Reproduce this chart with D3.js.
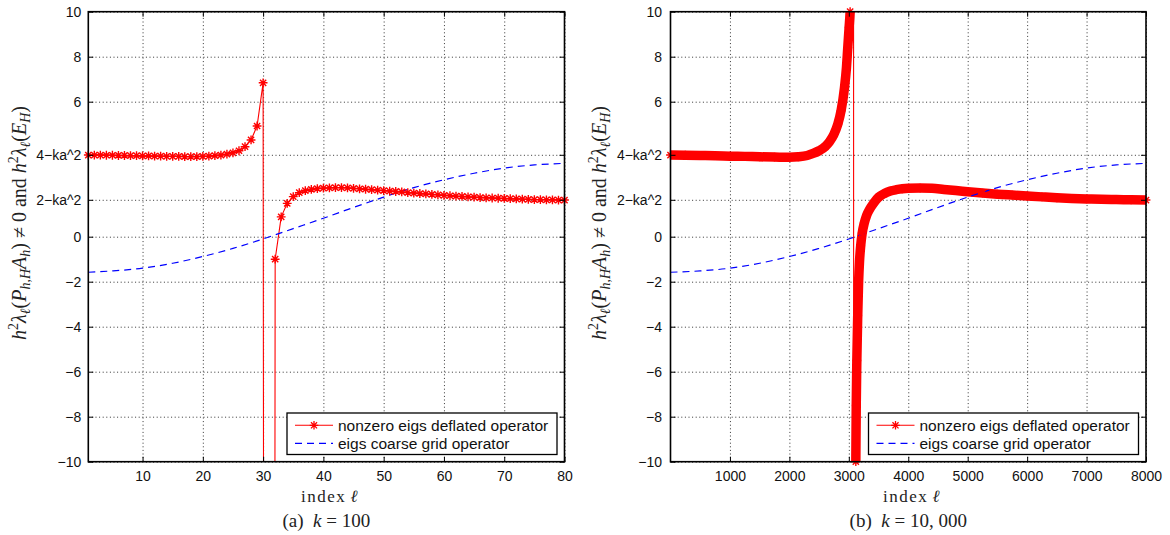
<!DOCTYPE html>
<html><head><meta charset="utf-8">
<script src="https://cdn.jsdelivr.net/npm/d3@7"></script>
<style>
body{margin:0;background:#fff;}
svg text{font-family:"Liberation Sans",Arial,sans-serif;}
.serif{font-family:"Liberation Serif","Times New Roman",serif !important;}
</style></head><body>
<svg id="chart" width="1170" height="535"></svg>
<script>
// ---------- data ----------
const ka2 = 0.36;
const yTickValues = [10, 8, 6, 4 - ka2, 2 - ka2, 0, -2, -4, -6, -8, -10];
const yTickLabels = ["10", "8", "6", "4\u2212ka^2", "2\u2212ka^2", "0", "\u22122", "\u22124", "\u22126", "\u22128", "\u221210"];
const xTicksA = [10, 20, 30, 40, 50, 60, 70, 80];
const xTicksB = [1000, 2000, 3000, 4000, 5000, 6000, 7000, 8000];

// panel (a): k = 100, deflated operator eigenvalues (index 1..80)
const redIdxA = d3.range(1, 81);
const redValA = [
  3.63, 3.63, 3.63, 3.62, 3.62, 3.61, 3.61, 3.60, 3.60, 3.59,
  3.59, 3.58, 3.58, 3.57, 3.57, 3.57, 3.56, 3.56, 3.56, 3.57,
  3.58, 3.60, 3.63, 3.67, 3.73, 3.82, 4.00, 4.30, 4.92, 6.84,
  -250, -1.00, 0.88, 1.48, 1.78, 1.96, 2.05, 2.10, 2.14, 2.16,
  2.17, 2.18, 2.18, 2.17, 2.15, 2.13, 2.11, 2.09, 2.07, 2.05,
  2.03, 2.01, 1.99, 1.96, 1.94, 1.92, 1.90, 1.88, 1.86, 1.84,
  1.82, 1.80, 1.79, 1.77, 1.76, 1.74, 1.73, 1.72, 1.71, 1.70,
  1.69, 1.68, 1.67, 1.66, 1.65, 1.65, 1.64, 1.64, 1.63, 1.63
];
// coarse grid operator eigenvalues (a)
const blueIdxA = [1, 5, 10, 15, 20, 25, 30, 35, 40, 45, 50, 55, 60, 65, 70, 75, 80];
const blueValA = [-1.58, -1.52, -1.40, -1.18, -0.88, -0.52, -0.10, 0.36, 0.82, 1.30, 1.76, 2.18, 2.53, 2.82, 3.05, 3.19, 3.26];

// panel (b): k = 10,000
const redIdxB = [0, 250, 500, 750, 1000, 1250, 1500, 1750, 2000, 2150, 2300, 2400, 2500, 2600, 2675, 2750, 2815, 2870, 2926, 2960, 2982, 3005, 3022, 3040, 3060, 3078,
  3085, 3100, 3110, 3118, 3125, 3135, 3150, 3165, 3180, 3200, 3225, 3260, 3300, 3350, 3420, 3500, 3600, 3700, 3800, 3900, 4000, 4200, 4400, 4600, 4800, 5000,
  5250, 5500, 5750, 6000, 6250, 6500, 6750, 7000, 7250, 7500, 7750, 8000];
const redValB = [3.63, 3.62, 3.61, 3.60, 3.58, 3.57, 3.55, 3.54, 3.53, 3.55, 3.61, 3.70, 3.82, 4.00, 4.22, 4.55, 5.00, 5.60, 6.60, 7.50, 8.40, 9.30, 10.0, 11.5, 14.0, 40.0,
  -60, -20, -13, -10, -7.5, -5.5, -3.5, -2.0, -1.1, -0.4, 0.16, 0.60, 0.95, 1.22, 1.50, 1.75, 1.92, 2.03, 2.09, 2.13, 2.15, 2.16, 2.15, 2.10, 2.05, 2.00,
  1.94, 1.89, 1.85, 1.81, 1.77, 1.73, 1.70, 1.68, 1.66, 1.65, 1.64, 1.63];
const blueIdxB = [0, 500, 1000, 1500, 2000, 2500, 3000, 3500, 4000, 4500, 5000, 5500, 6000, 6500, 7000, 7500, 8000];
const blueValB = [-1.58, -1.52, -1.40, -1.18, -0.88, -0.52, -0.10, 0.36, 0.82, 1.30, 1.76, 2.18, 2.53, 2.82, 3.05, 3.19, 3.26];

const legendLabels = ["nonzero eigs deflated operator", "eigs coarse grid operator"];

// ---------- drawing ----------
const svg = d3.select("#chart");
const Y0 = 11.7, Y1 = 461.7;
const RED = "#ff0000", BLUE = "#0000ff";

function asterisk(r) {
  const d = r * 0.7071;
  return `M${-r},0L${r},0M0,${-r}L0,${r}M${-d},${-d}L${d},${d}M${-d},${d}L${d},${-d}`;
}

function yLabel(g, cx, cy) {
  const F = 20, S = 14;
  const t = g.append("text").attr("class", "serif")
    .attr("transform", `translate(${cx},${cy}) rotate(-90)`)
    .attr("text-anchor", "middle").attr("font-size", F).attr("fill", "#222");
  const parts = [
    ["h", "i", 0], ["2", "n", -8, S], ["λ", "i", 8], ["ℓ", "i", 4, S], ["(", "n", -4], ["P", "i", 0], ["h,H", "i", 4, S], ["A", "i", -4], ["h", "i", 4, S], [")", "n", -4],
    [" \u2260 0 and ", "n", 0], ["h", "i", 0], ["2", "n", -8, S], ["λ", "i", 8], ["ℓ", "i", 4, S], ["(", "n", -4], ["E", "i", 0], ["H", "i", 4, S], [")", "n", -4]
  ];
  parts.forEach(p => {
    t.append("tspan").text(p[0]).attr("font-style", p[1] === "i" ? "italic" : "normal")
      .attr("dy", p[2]).attr("font-size", p[3] || F).style("white-space", "pre");
  });
}

function drawPanel(p) {
  const x = d3.scaleLinear().domain(p.xDomain).range([p.left, p.right]);
  const y = d3.scaleLinear().domain([-10, 10]).range([Y1, Y0]);
  const W = p.right - p.left, H = Y1 - Y0;
  const g = svg.append("g");
  svg.append("clipPath").attr("id", "clip" + p.id).append("rect")
    .attr("x", p.left).attr("y", Y0).attr("width", W).attr("height", H);

  // grid
  const gridStyle = s => {
    s.select(".domain").remove();
    s.selectAll("line").attr("stroke", "#333").attr("stroke-width", 1).attr("stroke-dasharray", "1 2.6");
  };
  g.append("g").attr("transform", `translate(0,${Y1})`)
    .call(d3.axisBottom(x).tickValues(p.xTicks).tickSize(-H).tickFormat("")).call(gridStyle);
  g.append("g").attr("transform", `translate(${p.left},0)`)
    .call(d3.axisLeft(y).tickValues(yTickValues).tickSize(-W).tickFormat("")).call(gridStyle);

  const plot = g.append("g").attr("clip-path", `url(#clip${p.id})`);
  const red = d3.zip(p.redIdx, p.redVal);
  const lin = d3.line().x(d => x(d[0])).y(d => y(d[1]));

  if (p.band) {
    // dense overlapping markers form a thick band; one band per branch
    const split = p.bandSplit;
    [red.filter(d => d[0] < split), red.filter(d => d[0] > split)].forEach(br => {
      plot.append("path").datum(br)
        .attr("d", d3.line().x(d => x(d[0])).y(d => y(d[1])).curve(d3.curveMonotoneX))
        .attr("fill", "none").attr("stroke", RED).attr("stroke-width", 9.5)
        .attr("stroke-linejoin", "round").attr("stroke-linecap", "round");
    });
  }
  plot.append("path").datum(red).attr("d", lin)
    .attr("fill", "none").attr("stroke", RED).attr("stroke-width", 1.1);

  g.append("g").selectAll("path").data(red.filter(d => d[1] >= -10.3 && d[1] <= 10.3)).join("path")
    .attr("transform", d => `translate(${x(d[0])},${y(d[1])})`)
    .attr("d", asterisk(4.4)).attr("fill", "none").attr("stroke", RED).attr("stroke-width", 1.4);

  plot.append("path").datum(d3.zip(p.blueIdx, p.blueVal))
    .attr("d", d3.line().x(d => x(d[0])).y(d => y(d[1])).curve(d3.curveMonotoneX))
    .attr("fill", "none").attr("stroke", BLUE).attr("stroke-width", 1.2).attr("stroke-dasharray", "7 5");

  // axes with inward ticks
  const axStyle = s => {
    s.select(".domain").remove();
    s.selectAll("line").attr("stroke", "#000").attr("stroke-width", 1);
    s.selectAll("text").attr("font-size", 14).attr("fill", "#111")
      .style("font-family", '"Liberation Sans",Arial,sans-serif');
  };
  g.append("g").attr("transform", `translate(0,${Y1})`)
    .call(d3.axisBottom(x).tickValues(p.xTicks).tickSize(-5).tickPadding(9).tickFormat(d3.format("d"))).call(axStyle);
  g.append("g").attr("transform", `translate(0,${Y0})`)
    .call(d3.axisTop(x).tickValues(p.xTicks).tickSize(-5).tickFormat("")).call(axStyle);
  g.append("g").attr("transform", `translate(${p.left},0)`)
    .call(d3.axisLeft(y).tickValues(yTickValues).tickSize(-5).tickPadding(p.yPad)
      .tickFormat((d, i) => yTickLabels[i])).call(axStyle);
  g.append("g").attr("transform", `translate(${p.right},0)`)
    .call(d3.axisRight(y).tickValues(yTickValues).tickSize(-5).tickFormat("")).call(axStyle);

  g.append("rect").attr("x", p.left).attr("y", Y0).attr("width", W).attr("height", H)
    .attr("fill", "none").attr("stroke", "#000").attr("stroke-width", 1.6);

  // legend
  const lr = p.right - 7.5, ll = lr - 270, lt = 413, lb = 454.5;
  const lg = g.append("g");
  lg.append("rect").attr("x", ll).attr("y", lt).attr("width", lr - ll).attr("height", lb - lt)
    .attr("fill", "#fff").attr("stroke", "#000").attr("stroke-width", 1.3);
  const r1 = 425.3, r2 = 443.3;
  lg.append("line").attr("x1", ll + 8).attr("x2", ll + 46).attr("y1", r1).attr("y2", r1)
    .attr("stroke", RED).attr("stroke-width", 1.1);
  lg.append("path").attr("transform", `translate(${ll + 27},${r1})`).attr("d", asterisk(4.3))
    .attr("fill", "none").attr("stroke", RED).attr("stroke-width", 1.3);
  lg.append("line").attr("x1", ll + 8).attr("x2", ll + 46).attr("y1", r2).attr("y2", r2)
    .attr("stroke", BLUE).attr("stroke-width", 1.2).attr("stroke-dasharray", "7 5");
  lg.selectAll("text").data(legendLabels).join("text")
    .attr("x", ll + 51).attr("y", (d, i) => i === 0 ? r1 : r2).attr("dy", "0.35em")
    .attr("font-size", 15.5).attr("fill", "#111").text(d => d);

  // x label
  const cx = (p.left + p.right) / 2;
  const xl = g.append("text").attr("class", "serif").attr("x", cx + 3).attr("y", 501.7)
    .attr("text-anchor", "middle").attr("font-size", 17).attr("fill", "#222");
  xl.append("tspan").text("index").attr("letter-spacing", 1.5);
  xl.append("tspan").text(" \u2113").attr("font-style", "italic").style("white-space", "pre");

  // caption
  const cap = g.append("text").attr("class", "serif").attr("x", cx).attr("y", 526.5)
    .attr("text-anchor", "middle").attr("font-size", 19).attr("fill", "#222").style("white-space", "pre");
  cap.append("tspan").text(p.capLetter + "  ");
  cap.append("tspan").text("k").attr("font-style", "italic");
  cap.append("tspan").text(" = " + p.capValue);

  yLabel(g, p.yLabX, 223);
}

drawPanel({
  id: "a", xDomain: [1, 80], left: 88.3, right: 564.5, xTicks: xTicksA, yPad: 7,
  redIdx: redIdxA, redVal: redValA, blueIdx: blueIdxA, blueVal: blueValA,
  band: false, capLetter: "(a)", capValue: "100", yLabX: 25.5
});
drawPanel({
  id: "b", xDomain: [0, 8000], left: 670.5, right: 1146, xTicks: xTicksB, yPad: 8.5,
  redIdx: redIdxB, redVal: redValB, blueIdx: blueIdxB, blueVal: blueValB,
  band: true, bandSplit: 3080, capLetter: "(b)", capValue: "10, 000", yLabX: 605.5
});
</script>
</body></html>
